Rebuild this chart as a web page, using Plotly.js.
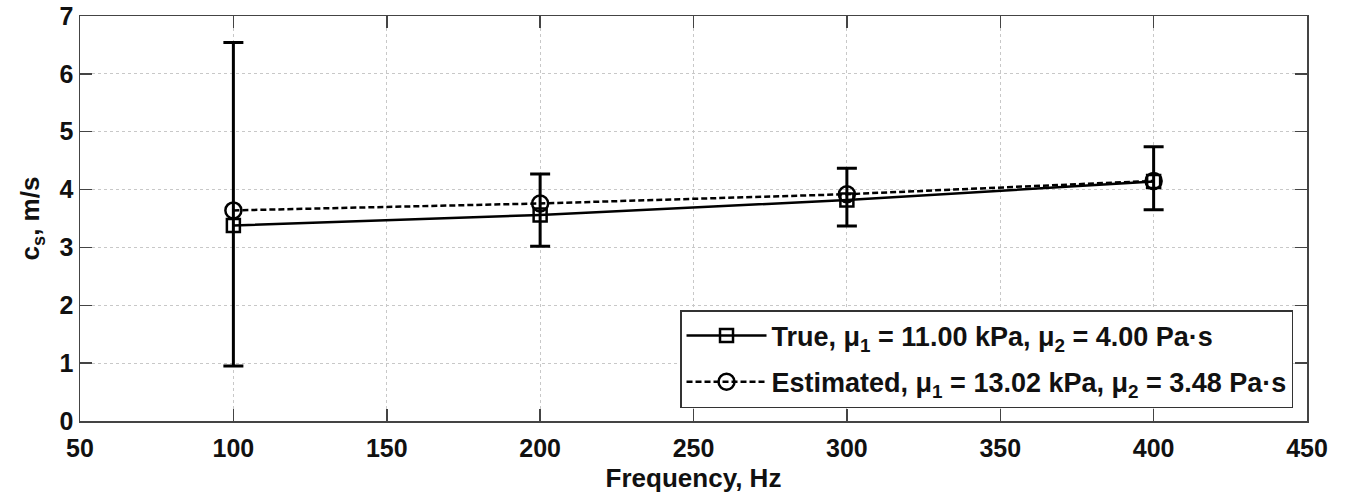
<!DOCTYPE html>
<html>
<head>
<meta charset="utf-8">
<script src="https://cdn.plot.ly/plotly-3.0.1.min.js"></script>
<style>html,body{margin:0;padding:0;background:#fff;}#chart{width:1349px;height:500px;}</style>
</head>
<body>
<div id="chart"></div>
<script>
const frequency = [100, 200, 300, 400];
const trueSpeed = [3.38, 3.56, 3.82, 4.14];
const estSpeed = [3.64, 3.76, 3.92, 4.15];
const estErrPlus = [2.90, 0.51, 0.45, 0.59];
const estErrMinus = [2.69, 0.74, 0.55, 0.50];
const trueLabel = 'True, \u03bc<sub>1</sub> = 11.00 kPa, \u03bc<sub>2</sub> = 4.00 Pa\u00b7s';
const estLabel = 'Estimated, \u03bc<sub>1</sub> = 13.02 kPa, \u03bc<sub>2</sub> = 3.48 Pa\u00b7s';
const xTicks = [50, 100, 150, 200, 250, 300, 350, 400, 450];
const yTicks = [0, 1, 2, 3, 4, 5, 6, 7];

const fam = 'Liberation Sans, Arial, sans-serif';
const tickFont = {family: fam, color: '#111', size: 25, weight: 'bold'};
const titleFont = {family: fam, color: '#111', size: 26, weight: 'bold'};

const traces = [
  {
    x: frequency, y: trueSpeed, name: trueLabel, type: 'scatter', mode: 'lines+markers',
    legendgroup: 'a',
    line: {color: '#000', width: 2.5},
    marker: {symbol: 'square-open', size: 13, color: '#000', line: {width: 2.5}}
  },
  {
    x: frequency, y: estSpeed, name: estLabel, type: 'scatter', mode: 'lines+markers',
    legendgroup: 'b',
    line: {color: '#000', width: 2.5, dash: '6px,3px'},
    marker: {symbol: 'circle-open', size: 16, color: '#000', line: {width: 2.5}},
    error_y: {type: 'data', symmetric: false, array: estErrPlus, arrayminus: estErrMinus,
              color: '#000', thickness: 3, width: 10}
  }
];

const axisCommon = {
  showline: true, linecolor: '#444', linewidth: 1.5, mirror: 'allticks',
  ticks: 'inside', ticklen: 12, tickwidth: 1.5, tickcolor: '#444',
  showgrid: true, gridcolor: '#c8c8c8', griddash: 'dot', gridwidth: 1.2,
  zeroline: false, tickfont: tickFont, automargin: false
};

const layout = {
  width: 1349, height: 500,
  margin: {l: 80, r: 42, t: 16, b: 79},
  paper_bgcolor: '#fff', plot_bgcolor: '#fff',
  font: tickFont,
  showlegend: true,
  xaxis: Object.assign({}, axisCommon, {
    range: [50, 450], tickmode: 'array', tickvals: xTicks, ticktext: xTicks.map(String),
    ticklabelstandoff: 4,
    title: {text: 'Frequency, Hz', font: titleFont, standoff: 8}
  }),
  yaxis: Object.assign({}, axisCommon, {
    range: [0, 7], tickmode: 'array', tickvals: yTicks, ticktext: yTicks.map(String),
    title: {text: 'c<sub>s</sub>, m/s', font: titleFont, standoff: 12}
  }),
  legend: {
    x: 0.9886, y: 0.032, xanchor: 'right', yanchor: 'bottom',
    bgcolor: '#fff', bordercolor: '#333', borderwidth: 1.5,
    font: {family: fam, color: '#111', size: 27, weight: 'bold'},
    itemwidth: 80, traceorder: 'grouped', tracegroupgap: 8
  }
};

Plotly.newPlot('chart', traces, layout, {displayModeBar: false, staticPlot: true});
</script>
</body>
</html>
